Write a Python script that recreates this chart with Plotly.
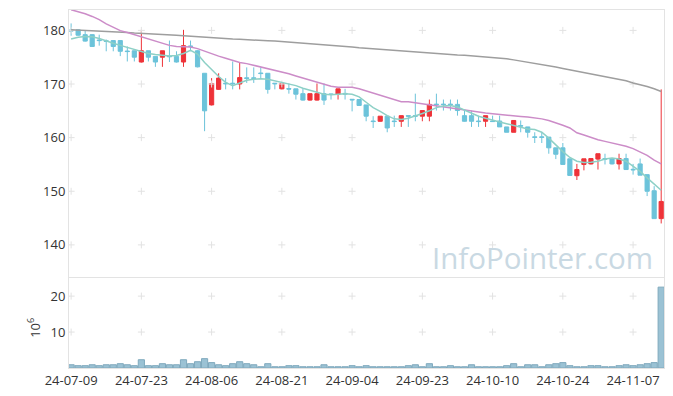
import plotly.graph_objects as go

dates = ["24-07-09","24-07-10","24-07-11","24-07-12","24-07-15","24-07-16","24-07-17","24-07-18","24-07-19","24-07-22",
         "24-07-23","24-07-24","24-07-25","24-07-26","24-07-29","24-07-30","24-07-31","24-08-01","24-08-02","24-08-05",
         "24-08-06","24-08-07","24-08-08","24-08-09","24-08-12","24-08-13","24-08-14","24-08-16","24-08-19","24-08-20",
         "24-08-21","24-08-22","24-08-23","24-08-26","24-08-27","24-08-28","24-08-29","24-08-30","24-09-02","24-09-03",
         "24-09-04","24-09-05","24-09-06","24-09-09","24-09-10","24-09-11","24-09-12","24-09-13","24-09-19","24-09-20",
         "24-09-23","24-09-24","24-09-25","24-09-26","24-09-27","24-09-30","24-10-02","24-10-04","24-10-07","24-10-08",
         "24-10-10","24-10-11","24-10-14","24-10-15","24-10-16","24-10-17","24-10-18","24-10-21","24-10-22","24-10-23",
         "24-10-24","24-10-25","24-10-28","24-10-29","24-10-30","24-10-31","24-11-01","24-11-04","24-11-05","24-11-06",
         "24-11-07","24-11-08","24-11-11","24-11-12","24-11-13"]

open_ = [180.05,180.1,179.2,179.2,178.2,178.05,178.1,178.1,176.15,176.2,
         174.1,176.2,175.15,175.0,175.2,175.15,174.1,177.1,176.2,172.0,
         166.1,169.0,170.15,170.15,170.0,171.15,171.15,172.05,172.0,170.15,
         169.1,169.15,169.1,168.2,167.0,167.0,168.2,168.15,168.1,168.25,
         167.15,167.1,166.1,163.1,163.05,164.0,163.1,163.05,164.1,164.1,
         164.0,164.0,166.25,166.25,166.25,166.2,164.1,164.1,163.1,163.05,
         163.1,163.1,162.0,161.0,162.25,162.0,160.15,160.15,160.1,158.1,
         158.1,156.05,152.9,155.0,155.1,156.0,156.1,156.1,155.1,156.1,
         154.1,155.1,153.1,150.1,144.9]
high = [181.3,180.2,180.0,179.3,179.2,178.3,178.1,178.1,177.0,176.2,
        180.1,176.2,175.2,176.2,178.1,176.1,180.1,178.1,176.3,172.0,
        171.1,172.0,171.1,174.2,174.0,173.1,173.1,173.1,172.0,170.15,
        170.1,170.1,169.1,169.1,168.2,170.1,170.1,168.2,169.1,169.1,
        167.15,167.1,166.1,164.0,164.0,164.0,164.1,164.1,164.1,168.2,
        165.05,167.1,168.2,167.1,167.1,167.1,165.05,165.05,164.1,164.1,
        164.1,164.1,162.0,163.2,163.2,162.0,161.0,161.0,160.1,158.1,
        159.0,156.05,155.1,156.05,156.1,157.0,157.0,156.1,157.0,157.0,
        155.1,156.1,153.1,150.95,169.0]
low = [179.0,179.0,177.9,176.9,177.15,176.1,176.1,175.2,174.2,174.2,
       174.0,174.2,173.2,173.2,174.1,174.0,173.2,176.1,173.1,161.2,
       166.0,168.9,169.0,169.0,169.0,170.2,170.2,171.0,168.2,169.0,
       169.0,168.2,167.1,166.9,166.9,166.9,166.1,167.1,167.1,167.1,
       164.9,166.0,163.05,161.8,163.0,161.0,162.0,162.0,162.0,163.05,
       163.05,163.05,165.05,165.05,165.05,164.1,163.0,162.0,162.0,162.0,
       163.0,162.0,161.0,161.0,161.0,160.0,159.0,159.0,157.0,156.0,
       155.0,152.9,152.1,153.9,155.0,154.05,155.0,155.0,154.05,154.0,
       153.1,153.0,149.1,144.9,144.0]
close = [179.9,179.1,178.0,177.0,178.1,177.95,177.0,176.1,176.05,175.0,
         176.2,175.0,174.1,176.2,175.1,174.1,177.15,177.0,173.2,165.0,
         170.1,171.1,170.05,170.05,171.2,171.05,171.05,171.95,169.0,170.05,
         170.1,169.05,168.1,167.0,168.2,168.2,167.0,168.05,169.1,168.15,
         167.05,166.0,164.0,163.0,164.0,161.8,163.0,164.1,164.0,164.0,
         165.05,166.2,166.15,166.15,166.15,165.05,163.05,163.05,163.0,164.1,
         163.0,162.0,161.0,163.2,162.15,161.0,160.05,160.05,158.1,156.9,
         155.0,152.95,154.05,156.05,156.1,157.0,156.0,155.1,156.1,154.05,
         154.0,153.0,150.0,144.9,148.1]

ma5 = [178.4,178.7,178.85,178.8,178.5,178.0,177.6,177.2,176.8,176.4,
       176.0,175.7,175.5,175.35,175.2,175.3,175.7,176.3,175.6,174.0,
       172.6,171.4,170.3,169.7,170.2,170.7,170.9,171.0,170.9,170.6,
       170.4,170.1,169.7,169.2,168.8,168.4,168.1,168.0,168.1,168.2,
       168.1,167.6,166.6,165.6,164.9,164.1,163.5,163.4,163.6,164.0,
       164.5,165.0,165.6,165.9,166.0,165.7,165.1,164.6,164.0,163.6,
       163.2,162.9,162.6,162.3,161.9,161.6,161.5,161.0,159.9,158.6,
       157.4,156.3,155.6,155.35,155.4,155.6,156.0,156.2,156.0,155.6,
       154.7,153.7,152.5,151.3,150.2]
ma20 = [183.85,183.5,183.1,182.6,182.0,181.2,180.5,179.95,179.6,179.2,
        178.8,178.4,178.0,177.6,177.2,177.0,176.9,176.9,176.6,176.1,
        175.6,175.2,174.8,174.4,174.0,173.8,173.5,173.1,172.8,172.5,
        172.2,171.9,171.5,171.1,170.7,170.3,169.9,169.6,169.4,169.45,
        169.4,169.1,168.7,168.3,167.85,167.4,167.0,166.7,166.7,166.5,
        166.3,166.1,165.9,165.8,165.6,165.4,165.2,165.0,164.8,164.6,
        164.45,164.3,164.15,164.0,163.95,163.85,163.7,163.5,163.2,162.8,
        162.3,161.8,160.9,160.5,160.0,159.6,159.3,159.0,158.7,158.4,
        157.95,157.4,156.7,155.8,155.1]
ma120 = [180.1,180.05,180.0,179.95,179.9,179.85,179.75,179.7,179.6,179.5,
         179.45,179.4,179.3,179.25,179.15,179.1,179.0,178.9,178.85,178.75,
         178.65,178.55,178.5,178.4,178.35,178.25,178.2,178.1,178.05,178.0,
         177.9,177.85,177.8,177.7,177.6,177.5,177.35,177.25,177.15,177.0,
         176.9,176.75,176.65,176.55,176.45,176.3,176.2,176.1,176.0,175.9,
         175.8,175.7,175.6,175.55,175.5,175.4,175.35,175.25,175.15,175.05,
         174.95,174.85,174.7,174.5,174.3,174.0,173.8,173.6,173.4,173.15,
         172.9,172.65,172.35,172.05,171.8,171.55,171.3,171.1,170.85,170.6,
         170.2,169.9,169.55,169.1,168.6]

volume_m = [0.9,0.65,0.65,0.9,0.65,0.9,0.9,1.2,0.9,0.65,
            2.3,0.65,0.65,1.2,0.9,0.9,2.3,1.2,1.75,2.6,
            1.5,0.9,0.65,1.2,1.75,1.2,0.9,0.35,1.2,0.35,
            0.35,0.65,0.65,0.35,0.35,0.35,0.9,0.35,0.35,0.35,
            0.65,0.35,0.65,0.35,0.35,0.35,0.35,0.35,0.65,0.9,
            0.35,1.2,0.35,0.35,0.65,0.35,0.35,0.9,0.35,0.35,
            0.35,0.35,0.65,1.2,0.35,0.9,0.9,0.35,0.9,1.2,
            1.5,0.65,0.35,0.35,0.65,0.65,0.35,0.35,0.65,0.9,
            0.65,0.9,1.2,1.5,22.5]

tick_labels = dates[::10]
price_grid = [140, 150, 160, 170, 180]
vol_grid = [10, 20]

font_family = "Open Sans, Noto Sans, sans-serif"
grid_color = "#e2e2e2"
frame_color = "#e3e3e3"

fig = go.Figure()

fig.add_trace(go.Candlestick(
    x=dates, open=open_, high=high, low=low, close=close,
    xaxis="x", yaxis="y",
    increasing=dict(line=dict(color="#ee3339", width=1), fillcolor="#ee3339"),
    decreasing=dict(line=dict(color="#6cc3da", width=1), fillcolor="#6cc3da"),
    whiskerwidth=0, showlegend=False))

fig.add_trace(go.Bar(x=dates, y=volume_m, xaxis="x2", yaxis="y2",
                     marker=dict(color="rgba(138,183,204,0.85)", line=dict(color="#7fa9bd", width=1)),
                     showlegend=False))

# grid crosses
fig.add_trace(go.Scatter(
    x=[t for t in tick_labels for _ in price_grid],
    y=[v for _ in tick_labels for v in price_grid],
    mode="markers", xaxis="x", yaxis="y",
    marker=dict(symbol="cross-thin", size=5, line=dict(width=1, color=grid_color)),
    hoverinfo="skip", showlegend=False))
fig.add_trace(go.Scatter(
    x=[t for t in tick_labels for _ in vol_grid],
    y=[v for _ in tick_labels for v in vol_grid],
    mode="markers", xaxis="x2", yaxis="y2",
    marker=dict(symbol="cross-thin", size=5, line=dict(width=1, color=grid_color)),
    hoverinfo="skip", showlegend=False))

fig.add_trace(go.Scatter(x=dates, y=ma120, mode="lines", xaxis="x", yaxis="y",
                         line=dict(color="#9e9e9e", width=1.5), showlegend=False))
fig.add_trace(go.Scatter(x=dates, y=ma20, mode="lines", xaxis="x", yaxis="y",
                         line=dict(color="#cc8cc8", width=1.5), showlegend=False))
fig.add_trace(go.Scatter(x=dates, y=ma5, mode="lines", xaxis="x", yaxis="y",
                         line=dict(color="#8dd0c6", width=1.5), showlegend=False))

xr = [-0.3, 84.4]
# page body has an 8px default margin; figure sized so the plot lands where the reference has it
fig.update_layout(
    width=665, height=388,
    margin=dict(l=61, r=9, t=2, b=28),
    paper_bgcolor="white", plot_bgcolor="white",
    font=dict(family=font_family, size=13, color="#333333"),
    boxgap=0.15, bargap=0.12,
    xaxis=dict(type="category", categoryorder="array", categoryarray=dates,
               domain=[0, 1], anchor="y", range=xr,
               showticklabels=False, showgrid=False, zeroline=False,
               showline=True, mirror=True, linecolor=frame_color, linewidth=1,
               rangeslider=dict(visible=False), tickvals=tick_labels, ticks=""),
    yaxis=dict(domain=[0.254, 1], range=[134.0, 183.8], tickvals=price_grid,
               showgrid=False, zeroline=False, showline=True, mirror=True,
               linecolor=frame_color, ticks="", tickfont=dict(size=13, color="#333")),
    xaxis2=dict(type="category", categoryorder="array", categoryarray=dates,
                domain=[0, 1], anchor="y2", range=xr, matches="x",
                tickvals=tick_labels, ticktext=tick_labels, tickangle=0,
                showgrid=False, zeroline=False,
                showline=True, mirror=True, linecolor=frame_color, ticks="",
                tickfont=dict(size=13, color="#333")),
    yaxis2=dict(domain=[0, 0.251], range=[0, 25], tickvals=vol_grid,
                showgrid=False, zeroline=False, showline=True, mirror=True,
                linecolor=frame_color, ticks="", tickfont=dict(size=13, color="#333")),
    annotations=[
        dict(text="10<sup>6</sup>", x=-0.079, y=0.08, xref="paper", yref="paper",
             textangle=-90, showarrow=False, font=dict(size=13, color="#333")),
        dict(text="InfoPointer.com", x=0.985, y=0.31, xref="paper", yref="paper",
             xanchor="right", yanchor="middle", showarrow=False,
             font=dict(size=29.5, color="#c9d9e3", family=font_family)),
    ],
)

fig.write_html("out.html")
